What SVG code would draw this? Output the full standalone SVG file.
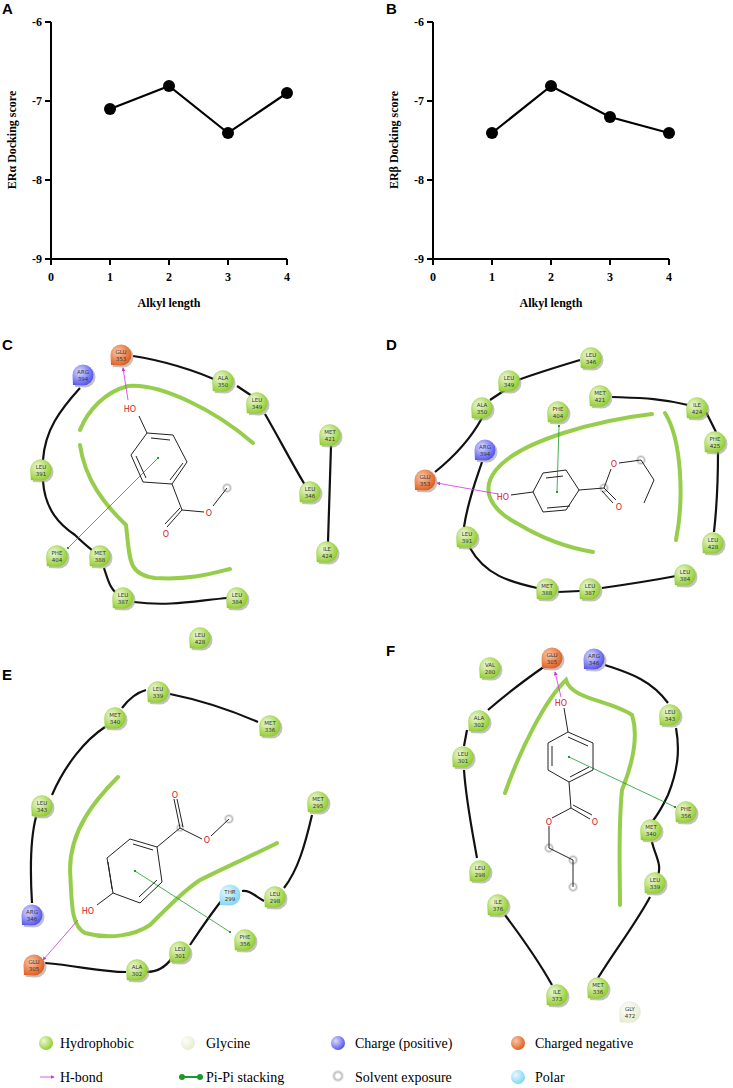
<svg xmlns="http://www.w3.org/2000/svg" xmlns:xlink="http://www.w3.org/1999/xlink" width="733" height="1088" viewBox="0 0 733 1088">
<style>
.ax{stroke:#000;stroke-width:2;fill:none}
.dl{stroke:#000;stroke-width:2.2;fill:none}
.tk{font-family:"Liberation Serif",serif;font-weight:bold;font-size:12px;fill:#000}
.pl{font-family:"Liberation Sans",sans-serif;font-weight:bold;font-size:15px;fill:#000}
.res{font-family:"DejaVu Sans",sans-serif;font-size:5.5px;fill:#333;text-anchor:middle}
.ch{stroke:#111;stroke-width:2.2;fill:none}
.pk{stroke:#8cc83a;stroke-width:4;fill:none;stroke-linecap:round;opacity:.9}
.bd{stroke:#222;stroke-width:1;fill:none}
.at{font-family:"DejaVu Sans",sans-serif;font-size:8px;fill:#d0202a;text-anchor:middle}
.pi{stroke:#1a9a2a;stroke-width:0.8}
.hb{stroke:#d030e0;stroke-width:0.8}
.sv{fill:#ccc;opacity:.8}
.lg{font-family:"Liberation Serif",serif;font-size:14px;fill:#000}
</style>
<defs>
<radialGradient id="gH" cx="35%" cy="35%" r="70%"><stop offset="0" stop-color="#eef8d8"/><stop offset="1" stop-color="#8fcc2a"/></radialGradient>
<radialGradient id="gG" cx="35%" cy="35%" r="70%"><stop offset="0" stop-color="#fcfdf6"/><stop offset="1" stop-color="#e6ecd2"/></radialGradient>
<radialGradient id="gP" cx="35%" cy="35%" r="70%"><stop offset="0" stop-color="#dcdcff"/><stop offset="1" stop-color="#5050ee"/></radialGradient>
<radialGradient id="gN" cx="35%" cy="35%" r="70%"><stop offset="0" stop-color="#f8c8a8"/><stop offset="1" stop-color="#e05a1a"/></radialGradient>
<radialGradient id="gT" cx="35%" cy="35%" r="70%"><stop offset="0" stop-color="#e8f8ff"/><stop offset="1" stop-color="#80d4f2"/></radialGradient>
<radialGradient id="gS" cx="50%" cy="50%" r="50%"><stop offset="0.3" stop-color="#fff"/><stop offset="0.6" stop-color="#bbb"/><stop offset="1" stop-color="#fff" stop-opacity="0"/></radialGradient>
<path id="drop" d="M-10,10 L-10.5,0 A10.5,10.5 0 1,1 0,10.5 Z"/>
<g id="H"><use href="#drop" fill="#999" opacity=".6" transform="translate(2,2)"/><use href="#drop" fill="url(#gH)" stroke="#8fcc2a" stroke-width=".4"/></g>
<g id="G"><use href="#drop" fill="url(#gG)" stroke="#dde4c8" stroke-width=".4"/></g>
<g id="P"><use href="#drop" fill="#999" opacity=".6" transform="translate(2,2)"/><use href="#drop" fill="url(#gP)"/></g>
<g id="N"><use href="#drop" fill="#999" opacity=".6" transform="translate(2,2)"/><use href="#drop" fill="url(#gN)"/></g>
<g id="T"><use href="#drop" fill="url(#gT)"/></g>
<marker id="ah" viewBox="0 0 6 6" refX="5" refY="3" markerWidth="5" markerHeight="5" orient="auto"><path d="M0,0 L6,3 L0,6Z" fill="#d030e0"/></marker>
<marker id="pd" viewBox="0 0 4 4" refX="2" refY="2" markerWidth="3" markerHeight="3"><circle cx="2" cy="2" r="2" fill="#1a9a2a"/></marker>
</defs>
<rect width="733" height="1088" fill="#fff"/>

<!-- Chart A -->
<g id="chartA">
<text class="pl" x="2" y="14">A</text>
<path class="ax" d="M51,22 V259 H287"/>
<path class="ax" d="M45,22H51M45,101H51M45,180H51M45,259H51M51,259V265M110,259V265M169,259V265M228,259V265M287,259V265"/>
<g class="tk" text-anchor="end"><text x="42" y="26">-6</text><text x="42" y="105">-7</text><text x="42" y="184">-8</text><text x="42" y="263">-9</text></g>
<g class="tk" text-anchor="middle"><text x="51" y="281">0</text><text x="110" y="281">1</text><text x="169" y="281">2</text><text x="228" y="281">3</text><text x="287" y="281">4</text><text x="169" y="307">Alkyl length</text></g>
<text class="tk" text-anchor="middle" transform="translate(16,140) rotate(-90)">ERα Docking score</text>
<polyline class="dl" points="110,109 169,86 228,133 287,93"/>
<g fill="#000"><circle cx="110" cy="109" r="6"/><circle cx="169" cy="86" r="6"/><circle cx="228" cy="133" r="6"/><circle cx="287" cy="93" r="6"/></g>
</g>

<!-- Chart B -->
<g id="chartB">
<text class="pl" x="386" y="14">B</text>
<path class="ax" d="M433,22 V259 H669"/>
<path class="ax" d="M427,22H433M427,101H433M427,180H433M427,259H433M433,259V265M492,259V265M551,259V265M610,259V265M669,259V265"/>
<g class="tk" text-anchor="end"><text x="424" y="26">-6</text><text x="424" y="105">-7</text><text x="424" y="184">-8</text><text x="424" y="263">-9</text></g>
<g class="tk" text-anchor="middle"><text x="433" y="281">0</text><text x="492" y="281">1</text><text x="551" y="281">2</text><text x="610" y="281">3</text><text x="669" y="281">4</text><text x="551" y="307">Alkyl length</text></g>
<text class="tk" text-anchor="middle" transform="translate(398,140) rotate(-90)">ERβ Docking score</text>
<polyline class="dl" points="492,133 551,86 610,117 669,133"/>
<g fill="#000"><circle cx="492" cy="133" r="6"/><circle cx="551" cy="86" r="6"/><circle cx="610" cy="117" r="6"/><circle cx="669" cy="133" r="6"/></g>
</g>

<!-- Panel labels -->
<text class="pl" x="2" y="350">C</text>
<text class="pl" x="386" y="350">D</text>
<text class="pl" x="2" y="680">E</text>
<text class="pl" x="386" y="656">F</text>

<!-- Connectors -->
<g id="connectors">
<!-- C -->
<path class="ch" d="M133,356 C160,360 195,370 220,382 M237,386 L252,396 M265,414 C280,440 290,460 305,485 M331,446 L328,542 M80,388 C60,410 45,430 43,460 M43,481 C45,510 60,525 75,535 C85,545 92,550 98,555 M104,568 C108,580 110,590 120,596 M134,602 C170,607 200,600 228,598"/>
<path class="pk" d="M253,443 C215,410 160,383 128,386 C105,392 88,410 80,430 M80,445 C85,480 105,505 126,525 C130,560 128,575 155,578 C190,580 210,574 230,569"/>
<path class="pi" d="M158,458 L68,548" marker-start="url(#pd)" marker-end="url(#pd)"/>
<path class="hb" d="M128,400 L123,368" marker-end="url(#ah)"/>
<!-- D -->
<path class="ch" d="M580,360 C560,366 540,372 518,380 M505,390 L490,400 M482,418 C470,440 450,460 435,472 M612,397 C640,398 660,398 688,405 M706,412 L716,432 M718,452 C718,480 717,505 714,532 M482,462 C476,480 468,500 464,527 M470,548 C485,575 510,582 537,588 M558,592 L580,591 M602,588 C630,584 655,580 676,576"/>
<path class="pk" d="M652,414 C600,420 520,440 496,470 C480,490 490,510 520,525 C545,540 570,548 593,552 M665,413 C682,440 684,500 676,540"/>
<path class="pi" d="M557,492 L559,426" marker-start="url(#pd)" marker-end="url(#pd)"/>
<path class="hb" d="M498,494 L437,483" marker-end="url(#ah)"/>
<!-- E -->
<path class="ch" d="M258,722 C235,712 200,700 170,694 M146,690 C135,693 128,700 122,708 M105,727 C85,740 65,765 52,795 M36,817 C30,840 30,870 32,903 M312,815 C305,845 298,870 284,888 M264,901 C255,896 250,890 242,891 M222,900 C210,915 200,930 190,945 M172,958 C165,968 155,972 146,972 M126,972 C100,972 80,966 45,963"/>
<path class="pk" d="M118,777 C95,800 70,830 70,870 C72,900 70,925 85,933 C110,940 135,935 150,925 C170,905 185,890 200,880 C230,865 260,852 277,843"/>
<path class="pi" d="M135,871 L230,932" marker-start="url(#pd)" marker-end="url(#pd)"/>
<path class="hb" d="M78,920 L43,960" marker-end="url(#ah)"/>
<!-- F -->
<path class="ch" d="M488,710 C505,695 525,680 545,666 M605,665 C625,672 650,678 668,703 M676,728 C680,750 678,770 668,795 C660,812 655,818 652,822 M652,842 C655,855 662,865 658,875 M650,897 C635,925 615,950 598,978 M467,730 L464,746 M464,770 C466,800 472,830 477,858 M505,915 C520,935 538,960 552,985"/>
<path class="pk" d="M505,793 C520,750 545,700 566,680 C572,700 610,700 632,715 C640,740 630,770 622,790 C618,830 620,870 620,905"/>
<path class="pi" d="M569,757 L675,807" marker-start="url(#pd)" marker-end="url(#pd)"/>
<path class="hb" d="M561,697 L555,672" marker-end="url(#ah)"/>
</g>

<!-- Ligands -->
<g id="ligC">
<circle cx="227" cy="488" r="6" fill="url(#gS)"/>
<path class="bd" d="M147,433 L173,435 L187,462 L172,484 L143,482 L131,455 Z M151,438 L170,440 M183,463 L170,480 M136,456 L146,478 M147,433 L139,416 M172,484 L182,510 L167,527 M180,508 L165,524 M182,510 L204,512 M213,506 L227,488"/>
<text class="at" x="130" y="412">HO</text><text class="at" x="166" y="537">O</text><text class="at" x="209" y="516">O</text>
</g>
<g id="ligD">
<circle cx="641" cy="460" r="6" fill="url(#gS)"/><circle cx="604" cy="488" r="6" fill="url(#gS)"/>
<path class="bd" d="M543,473 L566,470 L579,490 L566,510 L543,512 L533,492 Z M546,478 L563,476 M570,506 L547,508 M533,492 L511,495 M579,490 L604,488 L616,500 M602,491 L613,503 M604,488 L611,469 M619,463 L641,460 L654,480 L644,503"/>
<text class="at" x="503" y="500">HO</text><text class="at" x="619" y="510">O</text><text class="at" x="614" y="467">O</text>
</g>
<g id="ligE">
<circle cx="229" cy="819" r="6" fill="url(#gS)"/><circle cx="180" cy="828" r="5" fill="url(#gS)"/>
<path class="bd" d="M130,839 L157,847 L162,882 L140,903 L113,893 L107,858 Z M133,844 L153,850 M157,880 L139,897 M112,889 L108,862 M113,893 L97,905 M157,847 L180,828 L174,799 M183,827 L177,799 M180,828 L202,839 M211,836 L229,819"/>
<text class="at" x="88" y="914">HO</text><text class="at" x="175" y="798">O</text><text class="at" x="207" y="843">O</text>
</g>
<g id="ligF">
<circle cx="549" cy="848" r="6" fill="url(#gS)"/><circle cx="573" cy="860" r="6" fill="url(#gS)"/><circle cx="573" cy="887" r="6" fill="url(#gS)"/>
<path class="bd" d="M568,732 L593,743 L593,770 L569,782 L548,770 L548,743 Z M568,737 L588,746 M589,767 L570,777 M552,766 L552,746 M568,732 L564,708 M569,782 L571,808 L590,819 M573,805 L592,815 M571,808 L552,818 M549,826 L549,848 L573,860 L573,887"/>
<text class="at" x="561" y="706">HO</text><text class="at" x="595" y="825">O</text><text class="at" x="549" y="825">O</text>
</g>

<!-- Residues C -->
<g id="c-glu353" transform="translate(121,355)"><use href="#N"/><text class="res"><tspan x="0" y="-1">GLU</tspan><tspan x="0" y="6">353</tspan></text></g>
<g id="c-arg394" transform="translate(83,375)"><use href="#P"/><text class="res"><tspan x="0" y="-1">ARG</tspan><tspan x="0" y="6">394</tspan></text></g>
<g id="c-ala350" transform="translate(223,381)"><use href="#H"/><text class="res"><tspan x="0" y="-1">ALA</tspan><tspan x="0" y="6">350</tspan></text></g>
<g id="c-leu349" transform="translate(257,403)"><use href="#H"/><text class="res"><tspan x="0" y="-1">LEU</tspan><tspan x="0" y="6">349</tspan></text></g>
<g id="c-met421" transform="translate(330,435)"><use href="#H"/><text class="res"><tspan x="0" y="-1">MET</tspan><tspan x="0" y="6">421</tspan></text></g>
<g id="c-leu391" transform="translate(41,470)"><use href="#H"/><text class="res"><tspan x="0" y="-1">LEU</tspan><tspan x="0" y="6">391</tspan></text></g>
<g id="c-leu346" transform="translate(310,492)"><use href="#H"/><text class="res"><tspan x="0" y="-1">LEU</tspan><tspan x="0" y="6">346</tspan></text></g>
<g id="c-phe404" transform="translate(57,556)"><use href="#H"/><text class="res"><tspan x="0" y="-1">PHE</tspan><tspan x="0" y="6">404</tspan></text></g>
<g id="c-met388" transform="translate(100,556)"><use href="#H"/><text class="res"><tspan x="0" y="-1">MET</tspan><tspan x="0" y="6">388</tspan></text></g>
<g id="c-ile424" transform="translate(327,552)"><use href="#H"/><text class="res"><tspan x="0" y="-1">ILE</tspan><tspan x="0" y="6">424</tspan></text></g>
<g id="c-leu387" transform="translate(123,598)"><use href="#H"/><text class="res"><tspan x="0" y="-1">LEU</tspan><tspan x="0" y="6">387</tspan></text></g>
<g id="c-leu384" transform="translate(237,598)"><use href="#H"/><text class="res"><tspan x="0" y="-1">LEU</tspan><tspan x="0" y="6">384</tspan></text></g>
<g id="c-leu428" transform="translate(200,638)"><use href="#H"/><text class="res"><tspan x="0" y="-1">LEU</tspan><tspan x="0" y="6">428</tspan></text></g>

<!-- Residues D -->
<g id="d-leu346" transform="translate(591,358)"><use href="#H"/><text class="res"><tspan x="0" y="-1">LEU</tspan><tspan x="0" y="6">346</tspan></text></g>
<g id="d-leu349" transform="translate(509,381)"><use href="#H"/><text class="res"><tspan x="0" y="-1">LEU</tspan><tspan x="0" y="6">349</tspan></text></g>
<g id="d-met421" transform="translate(600,396)"><use href="#H"/><text class="res"><tspan x="0" y="-1">MET</tspan><tspan x="0" y="6">421</tspan></text></g>
<g id="d-ala350" transform="translate(482,408)"><use href="#H"/><text class="res"><tspan x="0" y="-1">ALA</tspan><tspan x="0" y="6">350</tspan></text></g>
<g id="d-phe404" transform="translate(558,412)"><use href="#H"/><text class="res"><tspan x="0" y="-1">PHE</tspan><tspan x="0" y="6">404</tspan></text></g>
<g id="d-ile424" transform="translate(697,408)"><use href="#H"/><text class="res"><tspan x="0" y="-1">ILE</tspan><tspan x="0" y="6">424</tspan></text></g>
<g id="d-arg394" transform="translate(485,450)"><use href="#P"/><text class="res"><tspan x="0" y="-1">ARG</tspan><tspan x="0" y="6">394</tspan></text></g>
<g id="d-phe425" transform="translate(715,442)"><use href="#H"/><text class="res"><tspan x="0" y="-1">PHE</tspan><tspan x="0" y="6">425</tspan></text></g>
<g id="d-glu353" transform="translate(425,480)"><use href="#N"/><text class="res"><tspan x="0" y="-1">GLU</tspan><tspan x="0" y="6">353</tspan></text></g>
<g id="d-leu391" transform="translate(467,537)"><use href="#H"/><text class="res"><tspan x="0" y="-1">LEU</tspan><tspan x="0" y="6">391</tspan></text></g>
<g id="d-leu428" transform="translate(713,543)"><use href="#H"/><text class="res"><tspan x="0" y="-1">LEU</tspan><tspan x="0" y="6">428</tspan></text></g>
<g id="d-leu384" transform="translate(685,575)"><use href="#H"/><text class="res"><tspan x="0" y="-1">LEU</tspan><tspan x="0" y="6">384</tspan></text></g>
<g id="d-met388" transform="translate(547,589)"><use href="#H"/><text class="res"><tspan x="0" y="-1">MET</tspan><tspan x="0" y="6">388</tspan></text></g>
<g id="d-leu387" transform="translate(590,589)"><use href="#H"/><text class="res"><tspan x="0" y="-1">LEU</tspan><tspan x="0" y="6">387</tspan></text></g>

<!-- Residues E -->
<g id="e-leu339" transform="translate(158,692)"><use href="#H"/><text class="res"><tspan x="0" y="-1">LEU</tspan><tspan x="0" y="6">339</tspan></text></g>
<g id="e-met340" transform="translate(115,718)"><use href="#H"/><text class="res"><tspan x="0" y="-1">MET</tspan><tspan x="0" y="6">340</tspan></text></g>
<g id="e-met336" transform="translate(270,726)"><use href="#H"/><text class="res"><tspan x="0" y="-1">MET</tspan><tspan x="0" y="6">336</tspan></text></g>
<g id="e-leu343" transform="translate(42,806)"><use href="#H"/><text class="res"><tspan x="0" y="-1">LEU</tspan><tspan x="0" y="6">343</tspan></text></g>
<g id="e-met295" transform="translate(318,802)"><use href="#H"/><text class="res"><tspan x="0" y="-1">MET</tspan><tspan x="0" y="6">295</tspan></text></g>
<g id="e-thr299" transform="translate(230,895)"><use href="#T"/><text class="res"><tspan x="0" y="-1">THR</tspan><tspan x="0" y="6">299</tspan></text></g>
<g id="e-leu298" transform="translate(275,897)"><use href="#H"/><text class="res"><tspan x="0" y="-1">LEU</tspan><tspan x="0" y="6">298</tspan></text></g>
<g id="e-arg346" transform="translate(32,915)"><use href="#P"/><text class="res"><tspan x="0" y="-1">ARG</tspan><tspan x="0" y="6">346</tspan></text></g>
<g id="e-phe356" transform="translate(245,940)"><use href="#H"/><text class="res"><tspan x="0" y="-1">PHE</tspan><tspan x="0" y="6">356</tspan></text></g>
<g id="e-leu301" transform="translate(180,952)"><use href="#H"/><text class="res"><tspan x="0" y="-1">LEU</tspan><tspan x="0" y="6">301</tspan></text></g>
<g id="e-ala302" transform="translate(137,970)"><use href="#H"/><text class="res"><tspan x="0" y="-1">ALA</tspan><tspan x="0" y="6">302</tspan></text></g>
<g id="e-glu305" transform="translate(34,965)"><use href="#N"/><text class="res"><tspan x="0" y="-1">GLU</tspan><tspan x="0" y="6">305</tspan></text></g>

<!-- Residues F -->
<g id="f-glu305" transform="translate(552,658)"><use href="#N"/><text class="res"><tspan x="0" y="-1">GLU</tspan><tspan x="0" y="6">305</tspan></text></g>
<g id="f-arg346" transform="translate(594,659)"><use href="#P"/><text class="res"><tspan x="0" y="-1">ARG</tspan><tspan x="0" y="6">346</tspan></text></g>
<g id="f-val280" transform="translate(490,668)"><use href="#H"/><text class="res"><tspan x="0" y="-1">VAL</tspan><tspan x="0" y="6">280</tspan></text></g>
<g id="f-ala302" transform="translate(479,721)"><use href="#H"/><text class="res"><tspan x="0" y="-1">ALA</tspan><tspan x="0" y="6">302</tspan></text></g>
<g id="f-leu343" transform="translate(670,715)"><use href="#H"/><text class="res"><tspan x="0" y="-1">LEU</tspan><tspan x="0" y="6">343</tspan></text></g>
<g id="f-leu301" transform="translate(463,757)"><use href="#H"/><text class="res"><tspan x="0" y="-1">LEU</tspan><tspan x="0" y="6">301</tspan></text></g>
<g id="f-phe356" transform="translate(686,812)"><use href="#H"/><text class="res"><tspan x="0" y="-1">PHE</tspan><tspan x="0" y="6">356</tspan></text></g>
<g id="f-met340" transform="translate(651,830)"><use href="#H"/><text class="res"><tspan x="0" y="-1">MET</tspan><tspan x="0" y="6">340</tspan></text></g>
<g id="f-leu298" transform="translate(480,871)"><use href="#H"/><text class="res"><tspan x="0" y="-1">LEU</tspan><tspan x="0" y="6">298</tspan></text></g>
<g id="f-leu339" transform="translate(655,883)"><use href="#H"/><text class="res"><tspan x="0" y="-1">LEU</tspan><tspan x="0" y="6">339</tspan></text></g>
<g id="f-ile376" transform="translate(498,905)"><use href="#H"/><text class="res"><tspan x="0" y="-1">ILE</tspan><tspan x="0" y="6">376</tspan></text></g>
<g id="f-ile373" transform="translate(557,995)"><use href="#H"/><text class="res"><tspan x="0" y="-1">ILE</tspan><tspan x="0" y="6">373</tspan></text></g>
<g id="f-met336" transform="translate(598,988)"><use href="#H"/><text class="res"><tspan x="0" y="-1">MET</tspan><tspan x="0" y="6">336</tspan></text></g>
<g id="f-gly472" transform="translate(630,1012)"><use href="#G"/><text class="res"><tspan x="0" y="-1">GLY</tspan><tspan x="0" y="6">472</tspan></text></g>

<!-- Legend -->
<g id="legend">
<circle cx="46" cy="1043" r="7" fill="url(#gH)"/><text class="lg" x="60" y="1048">Hydrophobic</text>
<circle cx="188" cy="1043" r="7" fill="url(#gG)"/><text class="lg" x="206" y="1048">Glycine</text>
<circle cx="338" cy="1043" r="7" fill="url(#gP)"/><text class="lg" x="355" y="1048">Charge (positive)</text>
<circle cx="518" cy="1043" r="7" fill="url(#gN)"/><text class="lg" x="535" y="1048">Charged negative</text>
<path class="hb" d="M40,1077 L54,1077" stroke-width="1.5" marker-end="url(#ah)"/><text class="lg" x="60" y="1082">H-bond</text>
<path d="M182,1077 L200,1077" stroke="#1a9a2a" stroke-width="2"/><circle cx="182" cy="1077" r="3" fill="#1a9a2a"/><circle cx="200" cy="1077" r="3" fill="#1a9a2a"/><text class="lg" x="206" y="1082">Pi-Pi stacking</text>
<circle cx="338" cy="1076" r="7" fill="url(#gS)"/><text class="lg" x="355" y="1082">Solvent exposure</text>
<circle cx="518" cy="1077" r="7" fill="url(#gT)"/><text class="lg" x="535" y="1082">Polar</text>
</g>
</svg>
